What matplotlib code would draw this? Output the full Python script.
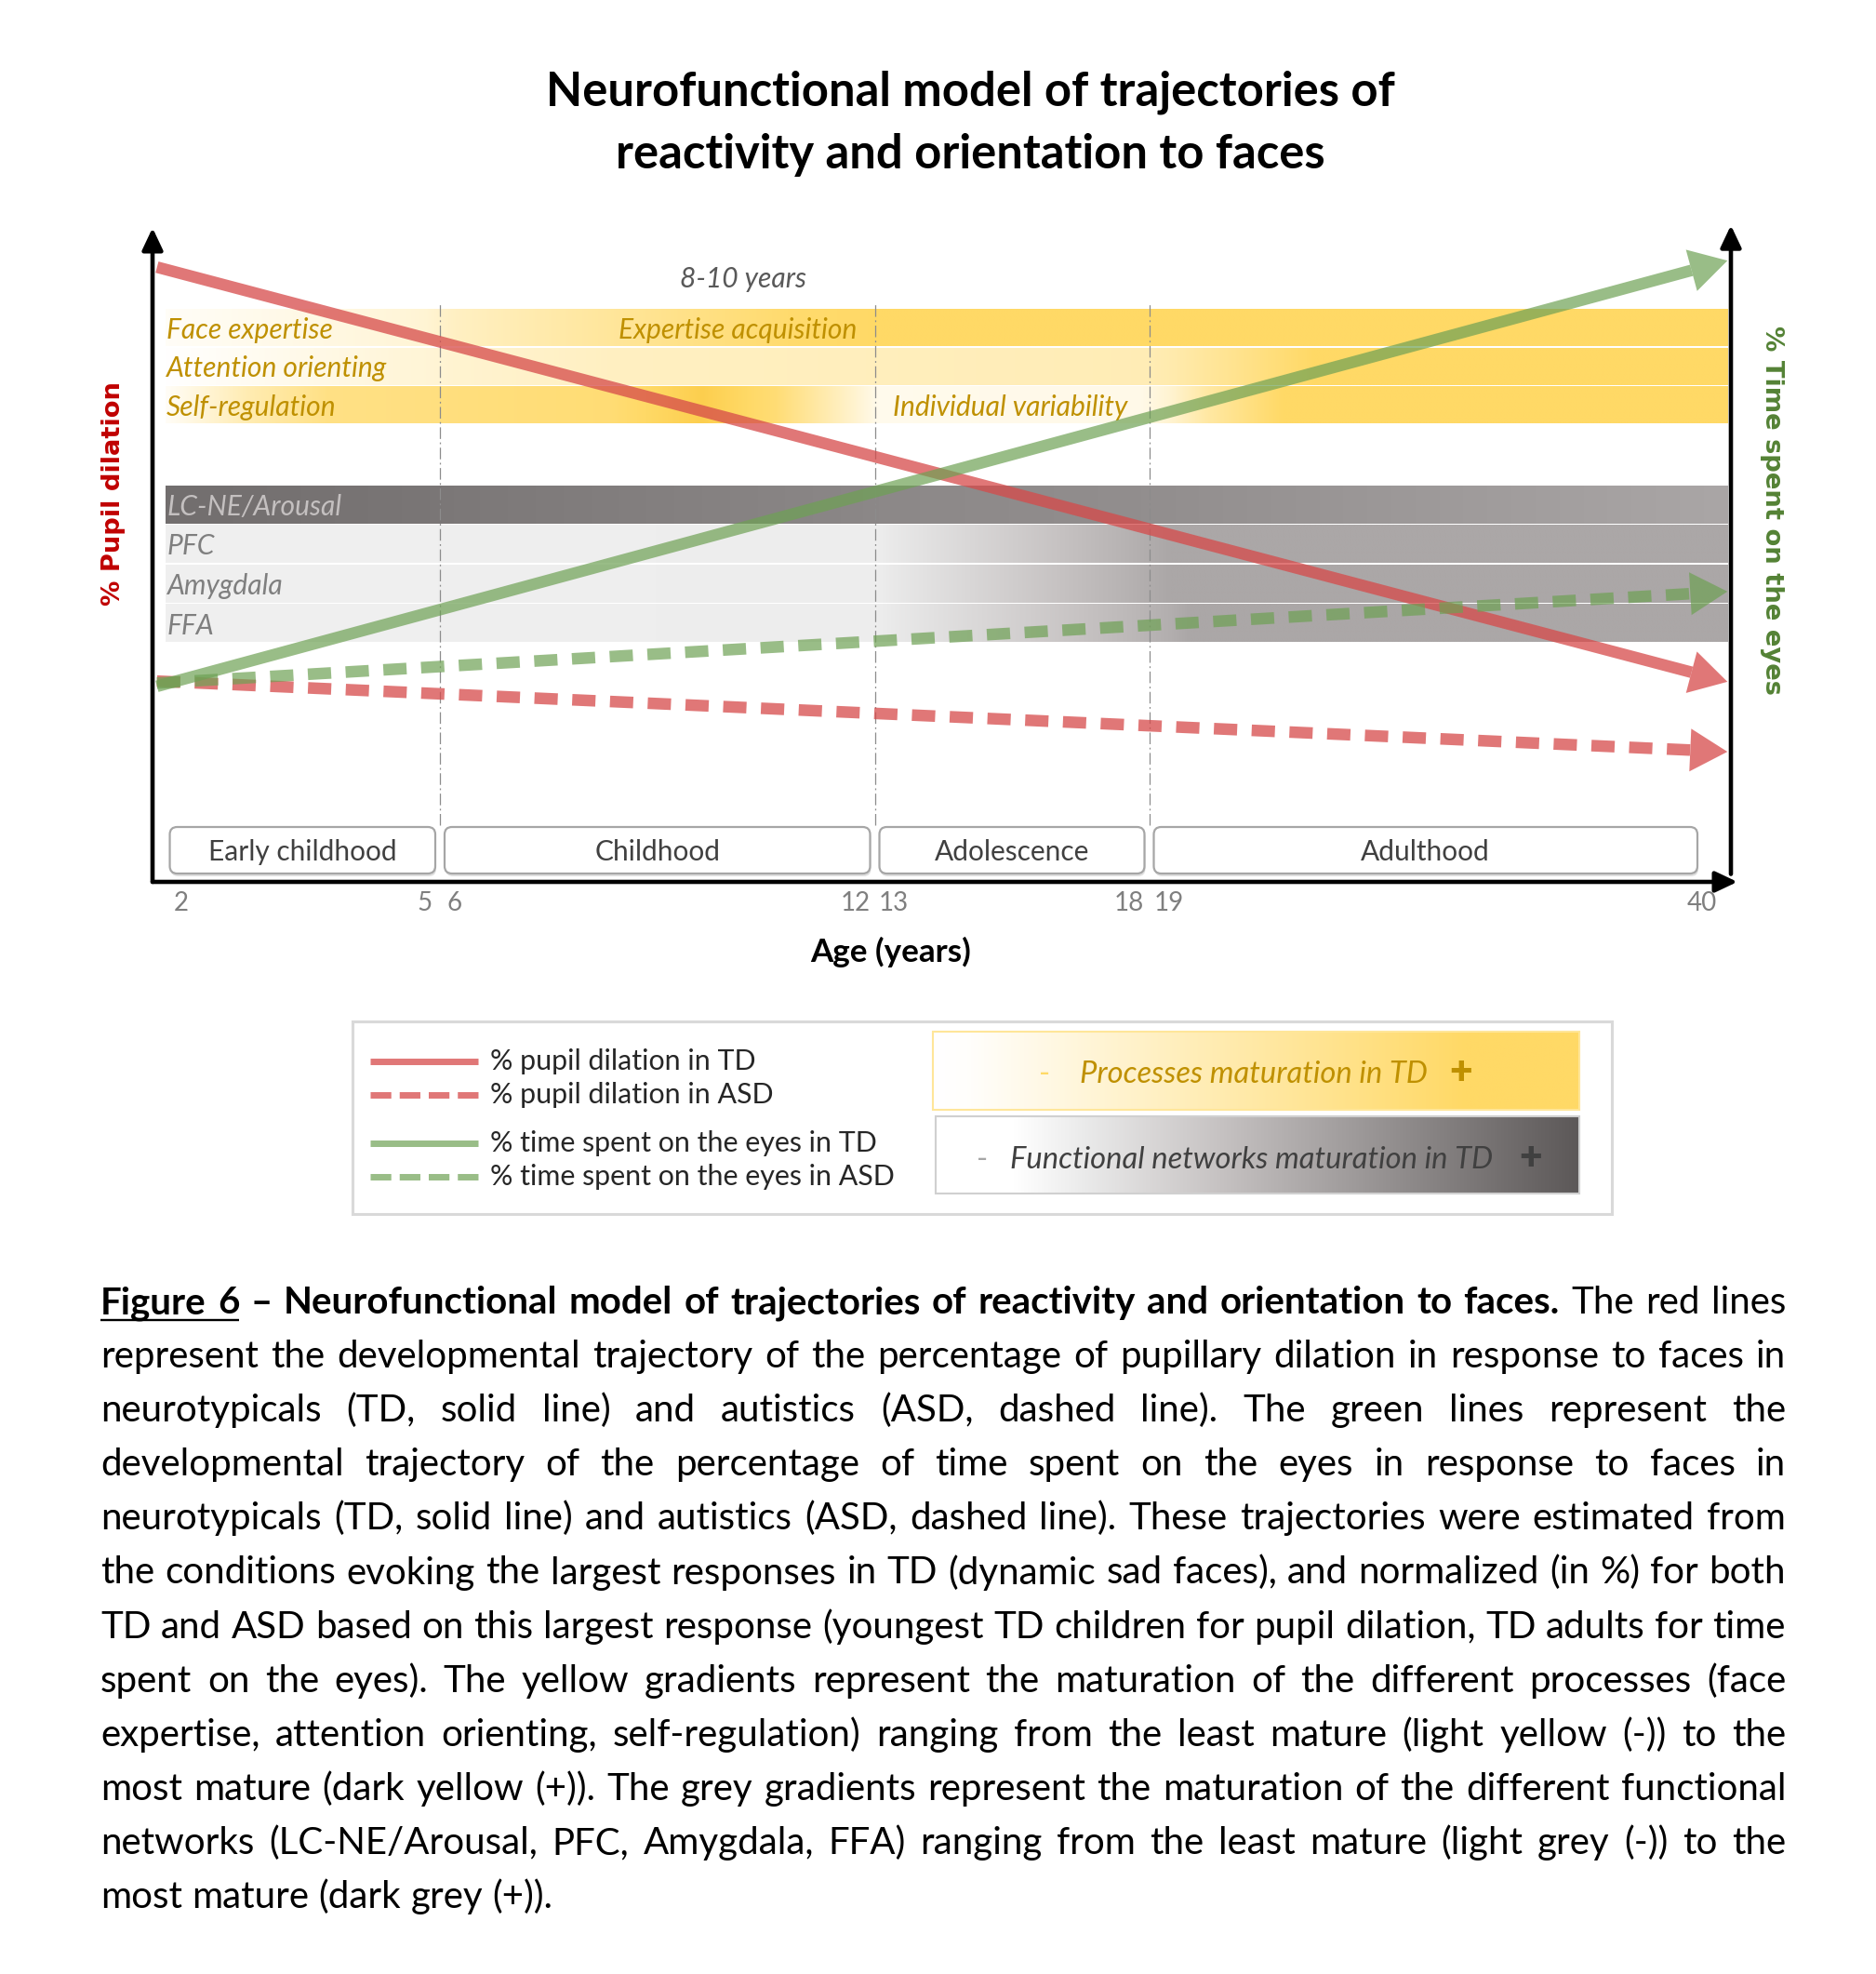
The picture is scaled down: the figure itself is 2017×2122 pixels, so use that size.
import numpy as np
import matplotlib
matplotlib.use('Agg')
import matplotlib.pyplot as plt
from matplotlib.patches import FancyBboxPatch, Rectangle, Polygon
from matplotlib.ticker import NullLocator

# ------------------------------------------------------------------ data
tick_ages = [2, 5, 6, 12, 13, 18, 19, 40]
tick_labels = ['2', '5', '6', '12', '13', '18', '19', '40']
period_names = ['Early childhood', 'Childhood', 'Adolescence', 'Adulthood']
period_edges = [1.8, 5.5, 12.5, 18.5, 40.0]
boundary_ages = [5.5, 12.5, 18.5]

traj_ages = [1.7, 41.0]          # start / end of the trajectories (years)
pupil_td = [94.0, 30.6]          # % pupil dilation, TD
pupil_asd = [30.7, 19.9]         # % pupil dilation, ASD
eyes_td = [29.9, 95.0]           # % time on eyes, TD
eyes_asd = [30.4, 44.4]          # % time on eyes, ASD
series_labels = ['% pupil dilation in TD', '% pupil dilation in ASD',
                 '% time spent on the eyes in TD', '% time spent on the eyes in ASD']

process_names = ['Face expertise', 'Attention orienting', 'Self-regulation']
face_exp_ages = [1.8, 4.7, 8.3, 11.0, 12.5, 41.0]
face_exp_level = [0.05, 0.25, 0.65, 0.95, 1.0, 1.0]
attention_ages = [1.8, 4.7, 8.3, 18.4, 21.8, 24.7, 41.0]
attention_level = [0.0, 0.25, 0.4, 0.48, 0.75, 1.0, 1.0]
selfreg_ages = [1.8, 2.8, 3.8, 8.3, 9.7, 10.8, 12.0, 12.6, 18.3, 20.5, 23.5, 41.0]
selfreg_level = [0.05, 0.5, 0.8, 0.9, 1.15, 0.9, 0.3, 0.12, 0.15, 0.6, 1.0, 1.0]

network_names = ['LC-NE/Arousal', 'PFC', 'Amygdala', 'FFA']
lcne_ages = [1.8, 12.6, 41.0]
lcne_grey = [110, 136, 166]
pfc_ages = [1.8, 12.6, 19.0, 41.0]
pfc_grey = [240, 237, 167, 167]
amyg_ages = [1.8, 12.6, 19.0, 41.0]
amyg_grey = [240, 237, 167, 167]
ffa_ages = [1.8, 12.6, 19.8, 41.0]
ffa_grey = [240, 237, 167, 167]

title_lines = ['Neurofunctional model of trajectories of',
               'reactivity and orientation to faces']

cap_head_ul = 'Figure 6'
cap_head_bold = '– Neurofunctional model of trajectories of reactivity and orientation to faces.'
caption_lines = [
    'The red lines',
    'represent the developmental trajectory of the percentage of pupillary dilation in response to faces in',
    'neurotypicals (TD, solid line) and autistics (ASD, dashed line). The green lines represent the',
    'developmental trajectory of the percentage of time spent on the eyes in response to faces in',
    'neurotypicals (TD, solid line) and autistics (ASD, dashed line). These trajectories were estimated from',
    'the conditions evoking the largest responses in TD (dynamic sad faces), and normalized (in %) for both',
    'TD and ASD based on this largest response (youngest TD children for pupil dilation, TD adults for time',
    'spent on the eyes). The yellow gradients represent the maturation of the different processes (face',
    'expertise, attention orienting, self-regulation) ranging from the least mature (light yellow (-)) to the',
    'most mature (dark yellow (+)). The grey gradients represent the maturation of the different functional',
    'networks (LC-NE/Arousal, PFC, Amygdala, FFA) ranging from the least mature (light grey (-)) to the',
    'most mature (dark grey (+)).',
]

# ------------------------------------------------------------------ figure
W, H, DPI = 2017, 2122, 100
fig = plt.figure(figsize=(W / DPI, H / DPI), dpi=DPI, facecolor='white')
renderer = fig.canvas.get_renderer()
SANS = ['Lato', 'DejaVu Sans']

bg = fig.add_axes([0, 0, 1, 1], zorder=0)
bg.set_xlim(0, W)
bg.set_ylim(H, 0)
bg.set_axis_off()


def fit_width(t, target):
    w = t.get_window_extent(renderer).width
    t.set_fontsize(t.get_fontsize() * target / w)
    return t.get_fontsize()


def fit_height(t, target):
    h = t.get_window_extent(renderer).height
    t.set_fontsize(t.get_fontsize() * target / h)
    return t.get_fontsize()


# main axes (schematic age scale)
AX_L, AX_R, AX_T, AX_B = 164, 1861, 245, 948
ax = fig.add_axes([AX_L / W, 1 - AX_B / H, (AX_R - AX_L) / W, (AX_B - AX_T) / H], zorder=2)
ax.patch.set_alpha(0)

scale_ages = [0, 2, 5, 6, 12, 13, 18, 19, 40, 45]
scale_pos = [20.4, 195, 457, 489, 920, 961, 1214, 1257, 1830, 1966.4]


def age_to_pos(a):
    return np.interp(a, scale_ages, scale_pos)


def pos_to_age(p):
    return np.interp(p, scale_pos, scale_ages)


ax.set_xscale('function', functions=(age_to_pos, pos_to_age))
ax.set_xlim(float(pos_to_age(AX_L)), float(pos_to_age(AX_R)))
ax.set_ylim(0, 100)
for s in ax.spines.values():
    s.set_visible(False)
ax.set_yticks([])
ax.set_xticks(tick_ages)
ax.set_xticklabels(tick_labels)
ax.xaxis.set_minor_locator(NullLocator())
ax.tick_params(axis='x', length=0, pad=7, labelsize=20, labelcolor='#7F7F7F')
for lab in ax.get_xticklabels():
    lab.set_fontfamily(SANS)

# axis arrows
arw = dict(arrowstyle='-|>,head_length=0.55,head_width=0.26', mutation_scale=26,
           lw=3.3, color='black', shrinkA=0, shrinkB=0)
ax.annotate('', xy=(0, 1.0), xytext=(0, 0), xycoords='axes fraction',
            textcoords='axes fraction', arrowprops=arw, annotation_clip=False, zorder=6)
ax.annotate('', xy=(1, 1.004), xytext=(1, 0.012), xycoords='axes fraction',
            textcoords='axes fraction', arrowprops=arw, annotation_clip=False, zorder=6)
ax.annotate('', xy=((1868 - AX_L) / (AX_R - AX_L), 0), xytext=(0, 0), xycoords='axes fraction',
            textcoords='axes fraction', arrowprops=arw, annotation_clip=False, zorder=6)

# axis labels
xl = ax.set_xlabel('Age (years)', fontweight='bold', family=SANS, color='black', fontsize=24)
fit_width(xl, 173)
ax.xaxis.set_label_coords((958 - AX_L) / (AX_R - AX_L), -(1023 - AX_B) / (AX_B - AX_T))
xl.set_va('center')

yl = ax.set_ylabel('% Pupil dilation', fontweight='bold', family='DejaVu Sans',
                   color='#C00000', fontsize=18)
fit_height(yl, 243)
ax.yaxis.set_label_coords((122 - AX_L) / (AX_R - AX_L), (AX_B - 531) / (AX_B - AX_T))
yl.set_va('center')

yr = ax.text((1905 - AX_L) / (AX_R - AX_L), (AX_B - 548) / (AX_B - AX_T), '% Time spent on the eyes',
             transform=ax.transAxes, rotation=270, ha='center', va='center',
             fontweight='bold', family='DejaVu Sans', color='#548235', fontsize=18)
fit_height(yr, 398)

# period boundaries
for a in boundary_ages:
    ax.axvline(a, ymin=(AX_B - 887) / (AX_B - AX_T), ymax=(AX_B - 325) / (AX_B - AX_T),
               color='#8C8C8C', lw=0.9, linestyle=(0, (10, 3, 1.5, 3)), zorder=1)

# trajectories
RED, RED_A = (0.84, 0.29, 0.29), 0.75
GREEN, GREEN_A = (0.43, 0.63, 0.33), 0.70
LW = 9.0
DASH = (0, (2.0, 1.25))
HEAD_LEN, HEAD_HW = 40, 23


def trajectory(ys, color, alpha, dashed):
    T = ax.transData
    p0 = T.transform((traj_ages[0], ys[0]))
    p1 = T.transform((traj_ages[1], ys[1]))
    d = p1 - p0
    u = d / np.hypot(*d)
    nrm = np.array([-u[1], u[0]])
    base = p1 - u * HEAD_LEN
    bx, by = T.inverted().transform(base)
    ax.plot([traj_ages[0], bx], [ys[0], by], color=color, alpha=alpha, lw=LW,
            linestyle=DASH if dashed else '-', solid_capstyle='butt',
            dash_capstyle='butt', zorder=3)
    tri = T.inverted().transform(np.array([p1, base + nrm * HEAD_HW, base - nrm * HEAD_HW]))
    ax.add_patch(Polygon(tri, closed=True, facecolor=color, alpha=alpha,
                         edgecolor='none', zorder=3))


trajectory(pupil_td, RED, RED_A, False)
trajectory(pupil_asd, RED, RED_A, True)
trajectory(eyes_td, GREEN, GREEN_A, False)
trajectory(eyes_asd, GREEN, GREEN_A, True)

# ------------------------------------------------------------------ gradient bands
BAND_X0, BAND_X1 = float(age_to_pos(1.8)), float(age_to_pos(41.0))
px = np.linspace(BAND_X0, BAND_X1, 1400)
pa = pos_to_age(px)
YEL_LV = [0.0, 1.0, 1.2]
YEL_RGB = np.array([[255, 255, 255], [255, 217, 102], [252, 203, 70]]) / 255.0


def yellow_rgb(levels):
    return np.stack([np.interp(levels, YEL_LV, YEL_RGB[:, c]) for c in range(3)], axis=-1)


def grey_rgb(v):
    v = np.asarray(v, float)
    warm = np.clip((235 - v) / 40.0, 0, 1) * 4
    return np.stack([np.clip(v + warm, 0, 255), v, v], axis=-1) / 255.0


proc = [(face_exp_ages, face_exp_level), (attention_ages, attention_level),
        (selfreg_ages, selfreg_level)]
for i, (ages, lv) in enumerate(proc):
    top = 333 + i * 41.3
    img = yellow_rgb(np.interp(pa, ages, lv))[None, :, :]
    bg.imshow(img, extent=(BAND_X0, BAND_X1, top + 39.5, top), aspect='auto',
              interpolation='bilinear', zorder=1)

net = [(lcne_ages, lcne_grey), (pfc_ages, pfc_grey), (amyg_ages, amyg_grey), (ffa_ages, ffa_grey)]
for i, (ages, gv) in enumerate(net):
    top = 522 + i * 42.5
    img = grey_rgb(np.interp(pa, ages, gv))[None, :, :]
    bg.imshow(img, extent=(BAND_X0, BAND_X1, top + 41.0, top), aspect='auto',
              interpolation='bilinear', zorder=1)

# band labels
LBL = dict(style='italic', fontweight='normal', family=SANS, zorder=2)
ref = bg.text(179, 396, process_names[1], fontsize=20, color='#BF9000', va='center',
              ha='left', **LBL)
band_fs = fit_width(ref, 237)
bg.text(179, 355, process_names[0], fontsize=band_fs, color='#BF9000', va='center',
        ha='left', **LBL)
bg.text(179, 438, process_names[2], fontsize=band_fs, color='#BF9000', va='center',
        ha='left', **LBL)
bg.text(921, 355, 'Expertise acquisition', fontsize=band_fs, color='#BF9000', va='center',
        ha='right', **LBL)
bg.text(960, 438, 'Individual variability', fontsize=band_fs, color='#BF9000', va='center',
        ha='left', **LBL)
bg.text(799, 300, '8-10 years', fontsize=band_fs, color='#595959', va='center',
        ha='center', **LBL)
net_cols = ['#C4C0C0', '#7F7F7F', '#7F7F7F', '#7F7F7F']
for i, (nm, c) in enumerate(zip(network_names, net_cols)):
    bg.text(180, 545 + i * 42.5, nm, fontsize=band_fs, color=c, va='center', ha='left', **LBL)

# period boxes
ref = bg.text(0, 0, period_names[0], fontsize=20, family=SANS)
per_fs = fit_width(ref, 203)
ref.remove()
for nm, lo, hi in zip(period_names, period_edges[:-1], period_edges[1:]):
    x0 = float(age_to_pos(lo)) + 5
    x1 = float(age_to_pos(hi)) - 5
    bg.add_patch(FancyBboxPatch((x0 + 1, 892), x1 - x0, 50, boxstyle='round,pad=0,rounding_size=8',
                                fc='#E0E0E0', ec='none', zorder=2))
    bg.add_patch(FancyBboxPatch((x0, 889), x1 - x0, 50, boxstyle='round,pad=0,rounding_size=8',
                                fc='white', ec='#A6A6A6', lw=1.6, zorder=3))
    bg.text((x0 + x1) / 2, 916, nm, fontsize=per_fs, family=SANS, color='#404040',
            ha='center', va='center', zorder=4)

# ------------------------------------------------------------------ title
t1 = bg.text(1043, 99, title_lines[0], fontsize=30, fontweight='bold', family=SANS,
             ha='center', va='center', color='black')
tfs = fit_width(t1, 912)
bg.text(1043, 166, title_lines[1], fontsize=tfs, fontweight='bold', family=SANS,
        ha='center', va='center', color='black')

# ------------------------------------------------------------------ legend
bg.add_patch(Rectangle((379, 1098), 1354, 207, fc='white', ec='#D9D9D9', lw=2.2, zorder=1))
leg_y = [1141, 1177, 1229, 1265]
leg_sty = [(RED, RED_A, '-'), (RED, RED_A, (0, (3.2, 1.3))),
           (GREEN, GREEN_A, '-'), (GREEN, GREEN_A, (0, (3.2, 1.3)))]
ref = bg.text(0, 0, series_labels[3], fontsize=20, family=SANS)
leg_fs = fit_width(ref, 437)
ref.remove()
for y, lab, (c, a, ls) in zip(leg_y, series_labels, leg_sty):
    bg.plot([398, 514], [y, y], color=c, alpha=a, lw=5, linestyle=ls,
            solid_capstyle='butt', dash_capstyle='butt', zorder=2)
    bg.text(527, y, lab, fontsize=leg_fs, family=SANS, color='#262626',
            va='center', ha='left', zorder=2)

# yellow legend box
lx = np.linspace(1003, 1698, 600)
ylev = np.interp(lx, [1003, 1040, 1576, 1698], [0.0, 0.02, 1.0, 1.0])
bg.imshow(yellow_rgb(ylev)[None, :, :], extent=(1003, 1698, 1193, 1109), aspect='auto',
          interpolation='bilinear', zorder=2)
bg.add_patch(Rectangle((1003, 1109), 695, 84, fc='none', ec='#FFE699', lw=1.5, zorder=3))
# grey legend box
gx = np.linspace(1006, 1698, 600)
gv = np.interp(gx, [1006, 1090, 1698], [255, 255, 88])
bg.imshow(grey_rgb(gv)[None, :, :], extent=(1006, 1698, 1283, 1200), aspect='auto',
          interpolation='bilinear', zorder=2)
bg.add_patch(Rectangle((1006, 1200), 692, 83, fc='none', ec='#D0D0D0', lw=1.5, zorder=3))

ref = bg.text(1086, 1247, 'Functional networks maturation in TD', fontsize=20, style='italic',
              family=SANS, color='#404040', va='center', ha='left', zorder=4)
box_fs = fit_width(ref, 520)
bg.text(1161, 1155, 'Processes maturation in TD', fontsize=box_fs, style='italic',
        family=SANS, color='#BF9000', va='center', ha='left', zorder=4)
bg.text(1123, 1155, '-', fontsize=box_fs, family=SANS, color='#FFD966', va='center',
        ha='center', zorder=4)
bg.text(1571, 1153, '+', fontsize=box_fs * 1.3, fontweight='heavy', family=SANS, color='#BF9000',
        va='center', ha='center', zorder=4)
bg.text(1056, 1247, '-', fontsize=box_fs, family=SANS, color='#A6A6A6', va='center',
        ha='center', zorder=4)
bg.text(1646, 1245, '+', fontsize=box_fs * 1.3, fontweight='heavy', family=SANS, color='#404040',
        va='center', ha='center', zorder=4)

# ------------------------------------------------------------------ caption (justified)
CAP_X0, CAP_X1 = 108, 1920
CAP_Y0, CAP_DY = 1412, 58.1


def line_tokens(i):
    if i == 0:
        toks = [(w, 'bold', True) for w in cap_head_ul.split()]
        toks += [(w, 'bold', False) for w in cap_head_bold.split()]
        toks += [(w, 'normal', False) for w in caption_lines[0].split()]
        return toks
    return [(w, 'normal', False) for w in caption_lines[i].split()]


def measure(text, size, wt):
    t = bg.text(0, 0, text, fontsize=size, fontweight=wt, family=SANS)
    w = t.get_window_extent(renderer).width
    t.remove()
    return w


def space_w(size, wt):
    return measure('n n', size, wt) - measure('nn', size, wt)


TEST = 20.0
sp0 = space_w(TEST, 'normal')
nat = []
for i in range(1, len(caption_lines) - 1):
    toks = line_tokens(i)
    nat.append(sum(measure(w, TEST, wt) for w, wt, _ in toks) + (len(toks) - 1) * sp0)
cap_fs = TEST * (CAP_X1 - CAP_X0) / max(nat) * 0.997

for i in range(len(caption_lines)):
    y = CAP_Y0 + i * CAP_DY
    toks = line_tokens(i)
    objs, widths = [], []
    for w, wt, ul in toks:
        t = bg.text(0, y, w, fontsize=cap_fs, fontweight=wt, family=SANS, color='black',
                    va='baseline', ha='left', zorder=5)
        objs.append(t)
        widths.append(t.get_window_extent(renderer).width)
    if i < len(caption_lines) - 1:
        gap = (CAP_X1 - CAP_X0 - sum(widths)) / (len(toks) - 1)
    else:
        gap = space_w(cap_fs, 'normal')
    x = CAP_X0
    ul_start, ul_end = None, None
    for (w, wt, ul), t, wd in zip(toks, objs, widths):
        t.set_x(x)
        if ul:
            if ul_start is None:
                ul_start = x
            ul_end = x + wd
        x += wd + gap
    if ul_start is not None:
        bg.plot([ul_start, ul_end], [y + 7, y + 7], color='black', lw=1.7,
                solid_capstyle='butt', zorder=5)

fig.savefig('out.png', dpi=DPI, facecolor='white')
